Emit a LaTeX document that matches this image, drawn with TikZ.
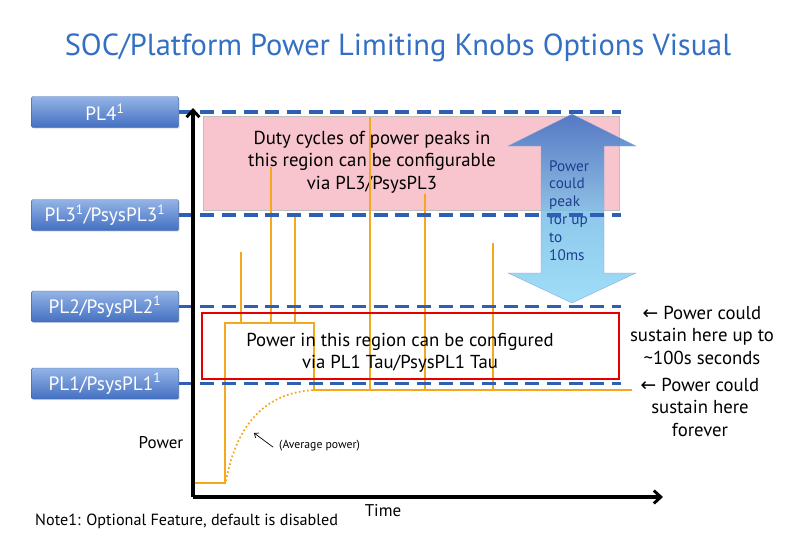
\documentclass[tikz,border=0pt]{standalone}
\usepackage{fontspec}
\setmainfont{PT Sans}
\newfontfamily\symfont{DejaVu Sans}
\usetikzlibrary{calc, arrows.meta, positioning, shadows}
\definecolor{titleblue}{HTML}{3370C4}
\definecolor{boxtop}{HTML}{94B4E6}
\definecolor{boxbot}{HTML}{4470C2}
\definecolor{boxedge}{HTML}{3D66B2}
\definecolor{limitblue}{HTML}{2F5FB4}
\definecolor{peakpink}{HTML}{F8C4CD}
\definecolor{traceorange}{HTML}{F4A81E}
\definecolor{arrowtop}{HTML}{3A6CC2}
\definecolor{arrowbot}{HTML}{8ED8F5}
\definecolor{arrowtext}{HTML}{203E8E}
\newcommand{\sone}{\textsuperscript{1}}

\begin{document}
\begin{tikzpicture}[x=0.03cm, y=-0.03cm,
  bodytxt/.style={font=\fontsize{16}{19.2}\selectfont, align=center, inner sep=0pt},
  plbox/.style={draw=boxedge, rounded corners=1pt, top color=boxtop, bottom color=boxbot,
    text=white, font=\fontsize{16.5}{19}\selectfont, minimum width=4.4cm, minimum height=0.93cm,
    inner sep=0pt, drop shadow={opacity=0.25, shadow xshift=1pt, shadow yshift=-1pt}},
  limit/.style={limitblue, line width=2.6pt, dash pattern=on 12pt off 6.5pt},
  trace/.style={traceorange, line width=1.7pt},
  axis/.style={black, line width=3pt, -{Straight Barb[length=6pt, width=11pt, line width=2.5pt]}}]
  \useasboundingbox (0,0) rectangle (800,549);

  \node[titleblue, font=\fontsize{26}{30}\selectfont, inner sep=0pt] (title) at (398,48)
    {SOC/Platform Power Limiting Knobs Options Visual};

  % limit labels
  \node[plbox] (pl4) at (105,112) {PL4\sone};
  \node[plbox] (pl3) at (105,215) {PL3\sone/PsysPL3\sone};
  \node[plbox] (pl2) at (105,306.5) {PL2/PsysPL2\sone};
  \node[plbox] (pl1) at (105,383.5) {PL1/PsysPL1\sone};
  \coordinate (lend) at (621,0);

  % peak region
  \fill[peakpink, draw=black!25] (203,116) rectangle (619,210);
  \node[bodytxt] (dutytxt) at (372,162)
    {Duty cycles of power peaks in\\this region can be configurable\\via PL3/PsysPL3};

  % peak duration arrow
  \path[top color=arrowtop, bottom color=arrowbot, middle color=arrowbot!75!arrowtop,
    fill opacity=0.85, draw=arrowtop!60, line width=0.3pt]
    (572,114) -- (636,146) -- (604,146) -- (604,273) -- (636,273) -- (572,303)
    -- (508,273) -- (541,273) -- (541,146) -- (508,146) -- cycle;
  \node[bodytxt, align=left, text=arrowtext, font=\fontsize{13}{15.2}\selectfont, anchor=north west]
    (peaktxt) at (549,160) {Power\\could\\peak\\for up\\to\\10ms};

  % power trace
  \draw[trace] (195,483) -- (225,483) -- (225,323) -- (314,323) -- (314,390) -- (632,390);
  \foreach \x/\top/\bot in {241/252/323, 271/167/323, 295/213/323, 370/117/390, 425/194/390, 493/243/390}
    \draw[trace] (\x,\bot) -- (\x,\top);
  \draw[traceorange, line width=1.5pt, dotted] (226,481) .. controls (236,428) and (262,393) .. (314,390);

  % limit lines
  \foreach \p in {pl4, pl3, pl2, pl1}
    \draw[limit] (\p.east) -- (\p.east -| lend);

  % sustained region
  \draw[red!90!black, line width=2pt] (202,313) rectangle (619,379);
  \node[bodytxt] (tautxt) at (400,353) {Power in this region can be configured\\via PL1 Tau/PsysPL1 Tau};

  % axes
  \coordinate (orig) at (193,497);
  \draw[axis] (orig) -- (193,108);
  \draw[axis] (orig) -- (663,497);
  \node[bodytxt, font=\fontsize{14.5}{17}\selectfont] (ylabel) at (161,443) {Power};
  \node[bodytxt, font=\fontsize{14.5}{17}\selectfont] (xlabel) at (383,511) {Time};

  \node[bodytxt, font=\fontsize{10}{12}\selectfont, anchor=west] (avgtxt) at (279,446) {(Average power)};
  \coordinate (avgtip) at (254,433);
  \draw[-{Straight Barb[length=3pt, width=5pt]}, line width=0.6pt] ([xshift=-5pt, yshift=-1pt]avgtxt.west) -- (avgtip);

  \node[bodytxt] (sustaintxt) at (702,335) {{\symfont ←} Power could\\sustain here up to\\\textasciitilde100s seconds};
  \node[bodytxt] (forevertxt) at (700,407) {{\symfont ←} Power could\\sustain here\\forever};

  \node[bodytxt, font=\fontsize{13.8}{16}\selectfont, anchor=west] (note) at (35,521)
    {Note1: Optional Feature, default is disabled};
\end{tikzpicture}
\end{document}
